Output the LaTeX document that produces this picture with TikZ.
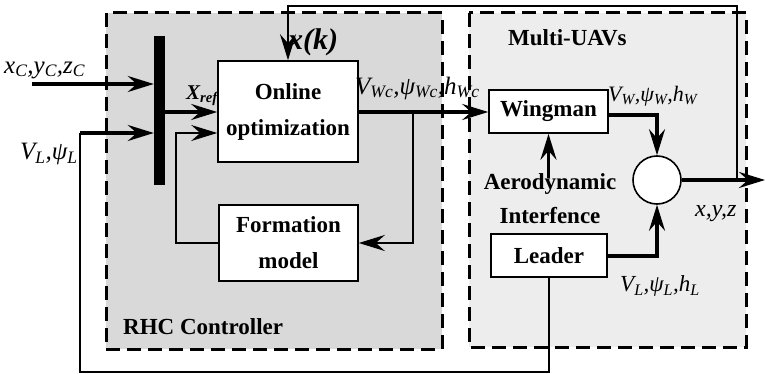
\documentclass[tikz,border=0pt]{standalone}
\usepackage{fontspec}
\setmainfont{Liberation Serif}
\usetikzlibrary{arrows.meta,calc}
\newcommand{\sbs}[1]{\textsubscript{#1}}
\begin{document}
\begin{tikzpicture}[x=1pt,y=-1pt,
  blk/.style={draw,line width=1.6pt,fill=white,font=\fontsize{23}{26}\selectfont\bfseries,align=center,inner sep=0pt},
  thk/.style={line width=3.2pt},
  thn/.style={line width=1.7pt},
  tip/.style={-{Stealth[length=26pt,width=16pt,inset=9pt]}},
  grp/.style={line width=3pt,dash pattern=on 14pt off 7pt},
  lbl/.style={font=\fontsize{25}{26}\selectfont\itshape,inner sep=0pt},
  tlbl/.style={font=\fontsize{23}{26}\selectfont\bfseries,inner sep=0pt}
]
\useasboundingbox (0,0) rectangle (765,374);
% groups
\draw[grp,fill=black!15] (106,13) rectangle (442,349);
\draw[grp,fill=black!7] (469,13) rectangle (746,347);
\node[tlbl,anchor=west] (rhc) at (123,327) {RHC Controller};
\node[tlbl,anchor=west] (muav) at (508,38) {Multi-UAVs};
% blocks
\node[blk,minimum width=140pt,minimum height=101pt] (online) at (288,111.5) {Online\\[10pt]optimization};
\node[blk,minimum width=139pt,minimum height=76pt] (form) at (288.5,243) {Formation\\[10pt]model};
\node[blk,minimum width=119pt,minimum height=43pt] (wing) at (548.5,111.5) {Wingman};
\node[blk,minimum width=116pt,minimum height=43pt] (lead) at (549,255.5) {Leader};
\node[draw,circle,line width=1.6pt,fill=white,minimum size=48pt,inner sep=0pt] (sum) at (657,180) {};
\node[fill=black,minimum width=11pt,minimum height=149pt,inner sep=0pt] (bar) at (159.5,110.5) {};
\node[tlbl,align=center] (aero) at (550,199) {Aerodynamic\\[8pt]Interfence};
% coordinates
\coordinate (inC) at (32,84);
\coordinate (inL) at (80,133);
\coordinate (loopA) at (80,372);
\coordinate (jx) at (737,180);
\coordinate (topR) at (737,6);
\coordinate (topL) at (288,6);
\coordinate (br) at (413,112);
\coordinate (brD) at (413,243);
\coordinate (fbL) at (176,243);
\coordinate (fbU) at (176,133);
\coordinate (sumX) at (657,115);
\coordinate (leadX) at (657,256);
\coordinate (outE) at (765,180);
% connectors
\draw[thk,tip] (inC) -- (bar.west |- inC);
\draw[thk,tip] (inL) -- (bar.west |- inL);
\draw[thn] (lead.south) -- (lead.south |- loopA) -- (loopA) -- (inL);
\draw[thk,tip] (bar.east |- br) -- (online.west |- br);
\draw[thn,tip] (form.west) -- (fbL) -- (fbU) -- (online.west |- fbU);
\draw[thk,tip] (online.east |- br) -- (wing.west |- br);
\draw[line width=2.6pt,tip] (br) -- (brD) -- (form.east);
\draw[thk,tip] (wing.east |- sumX) -- (sumX) -- (sum.north);
\draw[thk,tip] (lead.east |- leadX) -- (leadX) -- (sum.south);
\draw[thk,tip] (sum.east) -- (outE);
\draw[thn,tip] (jx) -- (topR) -- (topL) -- (online.north);
\draw[thk,tip] ([yshift=-4pt]aero.north -| wing.south) -- (wing.south);
% labels
\node[lbl,anchor=west] (lC) at (4,70) {x\sbs{C},y\sbs{C},z\sbs{C}};
\node[lbl,anchor=west] (lL) at (20,154) {V\sbs{L},ψ\sbs{L}};
\node[lbl,anchor=west,font=\fontsize{21}{22}\selectfont\bfseries\itshape] (lref) at (186,96) {X\sbs{ref}};
\node[lbl,anchor=west,font=\fontsize{30}{32}\selectfont\bfseries\itshape] (lk) at (288,42) {x(k)};
\node[lbl,anchor=west] (lWc) at (355,88) {V\sbs{Wc},ψ\sbs{Wc},h\sbs{Wc}};
\node[lbl,anchor=west,font=\fontsize{22}{24}\selectfont\itshape] (lW) at (608,96) {V\sbs{W},ψ\sbs{W},h\sbs{W}};
\node[lbl,anchor=west,font=\fontsize{24}{26}\selectfont\itshape] (lxyz) at (695,214) {x,y,z};
\node[lbl,anchor=west,font=\fontsize{23}{26}\selectfont\itshape] (lLh) at (620,286) {V\sbs{L},ψ\sbs{L},h\sbs{L}};
\end{tikzpicture}
\end{document}
